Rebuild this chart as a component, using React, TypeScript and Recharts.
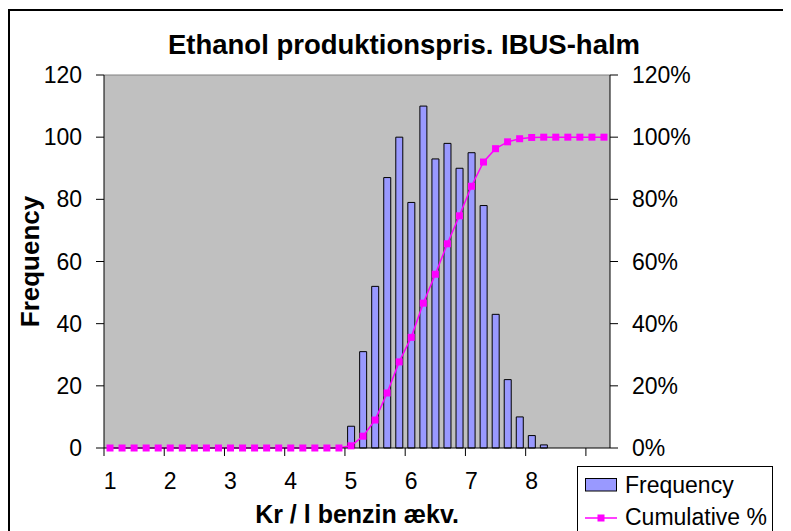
import { ComposedChart, Bar, Line, XAxis, YAxis, CartesianGrid, ReferenceLine } from 'recharts';

// histogram bins (upper bounds), Excel style with a final "More" bin
const bins = [
    '1', '1.2', '1.4', '1.6', '1.8',
    '2', '2.2', '2.4', '2.6', '2.8',
    '3', '3.2', '3.4', '3.6', '3.8',
    '4', '4.2', '4.4', '4.6', '4.8',
    '5', '5.2', '5.4', '5.6', '5.8',
    '6', '6.2', '6.4', '6.6', '6.8',
    '7', '7.2', '7.4', '7.6', '7.8',
    '8', '8.2', '8.4', '8.6', '8.8',
    '9', 'More',
];

const frequency = [
    0, 0, 0, 0, 0, 0, 0, 0, 0, 0,
    0, 0, 0, 0, 0, 0, 0, 0, 0, 0,
    7, 31, 52, 87, 100, 79, 110, 93, 98, 90,
    95, 78, 43, 22, 10, 4, 1, 0, 0, 0,
    0, 0,
];

const cumulativePct = [
    0, 0, 0, 0, 0, 0, 0, 0, 0, 0,
    0, 0, 0, 0, 0, 0, 0, 0, 0, 0,
    0.7, 3.8, 9.0, 17.7, 27.7, 35.6, 46.6, 55.9, 65.7, 74.7,
    84.2, 92.0, 96.3, 98.5, 99.5, 99.9, 100, 100, 100, 100,
    100, 100,
];

const leftTicks = [0, 20, 40, 60, 80, 100, 120];
const rightTicks = [0, 20, 40, 60, 80, 100, 120];

const data = bins.map((bin, i) => ({ bin, freq: frequency[i], cum: cumulativePct[i] }));

const FONT = '"Liberation Sans", Arial, sans-serif';
const BAR_FILL = '#9999FF';
const LINE_COLOR = '#FF00FF';
const X_TICK_SIZE = 8;
const X_TICK_MARGIN = 17;

// label centred in its category, tick mark on the category boundary (like Excel)
function XTick(props: any) {
    const { x, y, payload } = props;
    const off = payload && payload.offset ? payload.offset : 0;
    const axisY = y - X_TICK_MARGIN - X_TICK_SIZE;
    return (
        <g>
            <line x1={x - off} x2={x - off} y1={axisY} y2={axisY + X_TICK_SIZE} stroke="#000" />
            <text x={x} y={y} dy="0.71em" textAnchor="middle" fontSize={23} fontFamily={FONT} fill="#000">
                {payload.value}
            </text>
        </g>
    );
}

function SquareDot(props: any) {
    const { cx, cy, index } = props;
    if (cx == null || cy == null) return null;
    return <rect key={`d${index}`} x={cx - 3.5} y={cy - 3.5} width={7} height={7} fill={LINE_COLOR} />;
}

function LegendBox() {
    return (
        <div style={{ position: 'absolute', left: 569, top: 458, width: 196, height: 80, background: '#fff', border: '1px solid #000', boxSizing: 'border-box' }}>
            <svg width={194} height={78} style={{ display: 'block' }}>
                <rect x={7.5} y={11.5} width={31} height={12.5} fill={BAR_FILL} stroke="#000" />
                <text x={47} y={26} fontSize={23} fontFamily={FONT} fill="#000">Frequency</text>
                <line x1={7} x2={39} y1={51} y2={51} stroke={LINE_COLOR} strokeWidth={1.5} />
                <rect x={19.5} y={47.5} width={7} height={7} fill={LINE_COLOR} />
                <text x={47} y={57.5} fontSize={23} fontFamily={FONT} fill="#000">Cumulative %</text>
            </svg>
        </div>
    );
}

export default function App() {
    return (
        <div style={{ position: 'relative', width: 783, height: 523, overflow: 'hidden', fontFamily: FONT, background: '#fff' }}>
            <div style={{ position: 'absolute', left: 0, top: 1, width: 820, height: 560, border: '2px solid #000', boxSizing: 'border-box' }} />
            <div style={{ position: 'absolute', left: 0, top: 23, width: 792, textAlign: 'center', fontSize: 27.5, lineHeight: '27px', fontWeight: 'bold', color: '#000' }}>
                Ethanol produktionspris. IBUS-halm
            </div>
            <div style={{ position: 'absolute', left: 0, top: 0 }}>
                <ComposedChart width={783} height={523} data={data} margin={{ top: 67, right: 81, bottom: 0, left: 0 }} barCategoryGap="22%">
                    <CartesianGrid fill="#C0C0C0" horizontal={false} vertical={false} />
                    <XAxis
                        dataKey="bin"
                        type="category"
                        interval={4}
                        height={83}
                        tickSize={0}
                        tickMargin={X_TICK_SIZE + X_TICK_MARGIN}
                        tickLine={false}
                        tick={<XTick />}
                        axisLine={{ stroke: '#000' }}
                        label={{ value: 'Kr / l benzin ækv.', position: 'insideBottom', offset: 8, fontSize: 25, fontWeight: 'bold', fill: '#000', fontFamily: FONT }}
                    />
                    <YAxis
                        yAxisId="left"
                        domain={[0, 120]}
                        ticks={leftTicks}
                        width={96}
                        tickSize={8}
                        tickMargin={14}
                        tick={{ fontSize: 23, fill: '#000', fontFamily: FONT }}
                        tickLine={{ stroke: '#000' }}
                        axisLine={{ stroke: '#000' }}
                        label={{ value: 'Frequency', angle: -90, position: 'insideLeft', offset: 22, style: { textAnchor: 'middle' }, fontSize: 26, fontWeight: 'bold', fill: '#000', fontFamily: FONT }}
                    />
                    <YAxis
                        yAxisId="right"
                        orientation="right"
                        domain={[0, 120]}
                        ticks={rightTicks}
                        width={100}
                        tickSize={8}
                        tickMargin={14}
                        tickFormatter={(v: number) => `${v}%`}
                        tick={{ fontSize: 23, fill: '#000', fontFamily: FONT }}
                        tickLine={{ stroke: '#000' }}
                        axisLine={{ stroke: '#000' }}
                    />
                    <ReferenceLine yAxisId="left" y={120} stroke="#808080" />
                    <Bar yAxisId="left" dataKey="freq" name="Frequency" fill={BAR_FILL} stroke="#000" strokeWidth={1} isAnimationActive={false} />
                    <Line
                        yAxisId="right"
                        type="linear"
                        dataKey="cum"
                        name="Cumulative %"
                        stroke={LINE_COLOR}
                        strokeWidth={1.5}
                        dot={<SquareDot />}
                        activeDot={false}
                        isAnimationActive={false}
                    />
                </ComposedChart>
            </div>
            <LegendBox />
        </div>
    );
}
